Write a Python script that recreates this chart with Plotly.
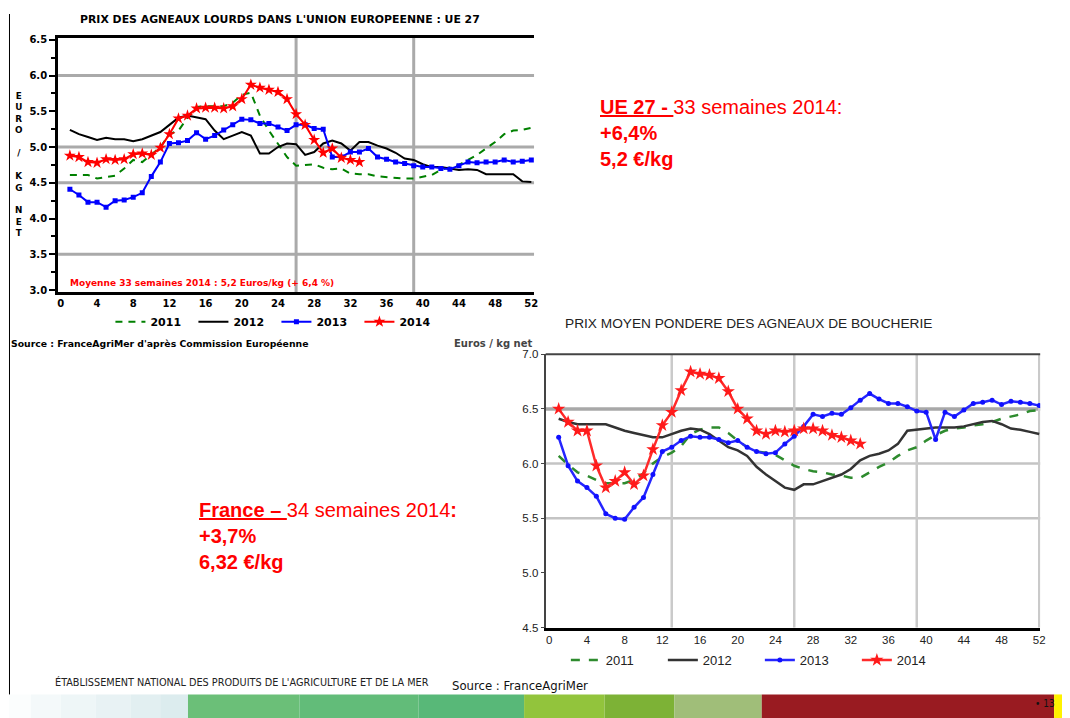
import plotly.graph_objects as go

W, H = 1070, 718
# the default page margin of the html body shifts the figure by this many pixels
PAGE_OFFSET = 8

# ---------------- DATA ----------------
weeks = list(range(1, 53))

# UE 27 - prix des agneaux lourds (euros / kg net)
eu_2011 = [4.61, 4.61, 4.61, 4.56, 4.58, 4.60, 4.70, 4.82, 4.79, 4.89,
           5.00, 5.18, 5.23, 5.41, 5.56, 5.57, 5.57, 5.57, 5.62, 5.73,
           5.76, 5.44, 5.23, 5.05, 4.86, 4.74, 4.75, 4.76, 4.71, 4.69,
           4.70, 4.63, 4.62, 4.62, 4.59, 4.58, 4.56, 4.56, 4.56, 4.59,
           4.61, 4.68, 4.72, 4.75, 4.82, 4.89, 4.98, 5.07, 5.18, 5.23,
           5.24, 5.27]
eu_2012 = [5.24, 5.18, 5.14, 5.10, 5.13, 5.11, 5.11, 5.08, 5.11, 5.16,
           5.21, 5.31, 5.41, 5.44, 5.41, 5.39, 5.23, 5.11, 5.16, 5.21,
           5.16, 4.91, 4.91, 5.00, 5.05, 5.04, 4.89, 4.93, 5.05, 5.09,
           5.05, 4.95, 5.07, 5.07, 5.02, 4.98, 4.92, 4.84, 4.82, 4.76,
           4.72, 4.72, 4.70, 4.68, 4.69, 4.68, 4.62, 4.62, 4.62, 4.62,
           4.52, 4.51]
eu_2013 = [4.41, 4.33, 4.23, 4.23, 4.16, 4.25, 4.26, 4.30, 4.36, 4.59,
           4.79, 5.05, 5.06, 5.09, 5.20, 5.11, 5.16, 5.24, 5.31, 5.39,
           5.38, 5.33, 5.33, 5.28, 5.23, 5.31, 5.31, 5.26, 5.25, 4.86,
           4.86, 4.93, 4.93, 4.98, 4.86, 4.83, 4.79, 4.77, 4.74, 4.72,
           4.72, 4.70, 4.69, 4.74, 4.79, 4.78, 4.79, 4.79, 4.82, 4.79,
           4.80, 4.82]
eu_2014 = [4.88, 4.86, 4.79, 4.78, 4.83, 4.82, 4.83, 4.90, 4.91, 4.89,
           4.99, 5.18, 5.40, 5.44, 5.54, 5.55, 5.55, 5.54, 5.57, 5.67,
           5.87, 5.83, 5.80, 5.77, 5.67, 5.46, 5.31, 5.10, 4.92, 4.98,
           4.85, 4.82, 4.79]

# France - prix moyen pondere des agneaux de boucherie
fr_2011 = [6.07, 5.99, 5.92, 5.89, 5.85, 5.82, 5.82, 5.82, 5.85, 5.91,
           6.00, 6.06, 6.10, 6.16, 6.27, 6.31, 6.33, 6.33, 6.28, 6.21,
           6.15, 6.11, 6.10, 6.08, 6.03, 5.98, 5.95, 5.93, 5.92, 5.90,
           5.89, 5.87, 5.87, 5.92, 5.97, 6.01, 6.07, 6.12, 6.15, 6.21,
           6.26, 6.30, 6.32, 6.33, 6.35, 6.36, 6.38, 6.41, 6.43, 6.45,
           6.48, 6.49]
fr_2012 = [6.41, 6.38, 6.36, 6.36, 6.36, 6.36, 6.33, 6.30, 6.28, 6.26,
           6.24, 6.24, 6.27, 6.30, 6.32, 6.31, 6.27, 6.21, 6.15, 6.12,
           6.07, 5.97, 5.90, 5.84, 5.78, 5.76, 5.81, 5.81, 5.84, 5.87,
           5.90, 5.95, 6.03, 6.07, 6.09, 6.12, 6.18, 6.30, 6.31, 6.32,
           6.33, 6.33, 6.33, 6.34, 6.36, 6.38, 6.39, 6.36, 6.32, 6.31,
           6.29, 6.27]
fr_2013 = [6.24, 5.98, 5.84, 5.78, 5.70, 5.54, 5.50, 5.49, 5.60, 5.69,
           5.90, 6.11, 6.15, 6.21, 6.25, 6.24, 6.24, 6.22, 6.19, 6.21,
           6.15, 6.11, 6.09, 6.10, 6.18, 6.25, 6.34, 6.45, 6.43, 6.46,
           6.45, 6.51, 6.58, 6.64, 6.59, 6.55, 6.55, 6.52, 6.48, 6.47,
           6.22, 6.47, 6.43, 6.49, 6.55, 6.56, 6.58, 6.54, 6.57, 6.56,
           6.55, 6.53]
fr_2014 = [6.50, 6.38, 6.30, 6.30, 5.98, 5.78, 5.84, 5.92, 5.81, 5.89,
           6.13, 6.35, 6.47, 6.67, 6.84, 6.82, 6.81, 6.78, 6.66, 6.50,
           6.41, 6.30, 6.27, 6.30, 6.29, 6.30, 6.32, 6.32, 6.30, 6.26,
           6.24, 6.21, 6.18]

year_names = ["2011", "2012", "2013", "2014"]
x_ticks = list(range(0, 53, 4))
eu_y_ticks = [3.0, 3.5, 4.0, 4.5, 5.0, 5.5, 6.0, 6.5]
fr_y_ticks = [4.5, 5.0, 5.5, 6.0, 6.5, 7.0]
eu_hgrid = [6.0, 5.0, 4.5, 3.5]
eu_vgrid = [26, 39]
fr_hgrid = [6.0, 5.5]
fr_hgrid_strong = [6.5]
fr_vgrid = [13, 26, 39, 52]

# ---------------- FIGURE ----------------
def px_x(p):
    return (p - PAGE_OFFSET) / W

def px_y(p):
    return 1 - (p - PAGE_OFFSET) / H

fig = go.Figure()

PIX = "DejaVu Sans, Verdana, sans-serif"
SANS = "Liberation Sans, Arial, sans-serif"
NARROW = "Liberation Sans Narrow, Arial Narrow, DejaVu Sans Condensed, sans-serif"

# --- EU chart traces
eu_series = [eu_2011, eu_2012, eu_2013, eu_2014]
eu_styles = [
    dict(mode="lines", line=dict(color="#008000", width=2, dash="7px,6px")),
    dict(mode="lines", line=dict(color="#000000", width=2)),
    dict(mode="lines+markers", line=dict(color="#0000ff", width=2),
         marker=dict(symbol="square", size=5, color="#0000ff")),
    dict(mode="lines+markers", line=dict(color="#ff0000", width=2),
         marker=dict(symbol="star", size=9, color="#ff0000")),
]
for name, ser, st in zip(year_names, eu_series, eu_styles):
    fig.add_trace(go.Scatter(x=weeks[:len(ser)], y=ser, name=name,
                             xaxis="x", yaxis="y", legend="legend", **st))

# --- France chart traces
fr_series = [fr_2011, fr_2012, fr_2013, fr_2014]
fr_styles = [
    dict(mode="lines", line=dict(color="#2e8b2e", width=2.5, dash="9px,9px")),
    dict(mode="lines", line=dict(color="#333333", width=2.5)),
    dict(mode="lines+markers", line=dict(color="#2626ff", width=2.5),
         marker=dict(symbol="circle", size=5, color="#1010ff")),
    dict(mode="lines+markers", line=dict(color="#ff2a2a", width=2.5),
         marker=dict(symbol="star", size=10, color="#ff1a1a")),
]
for name, ser, st in zip(year_names, fr_series, fr_styles):
    fig.add_trace(go.Scatter(x=weeks[:len(ser)], y=ser, name=name,
                             xaxis="x2", yaxis="y2", legend="legend2", **st))

shapes = []
# EU gridlines
for v in eu_hgrid:
    shapes.append(dict(type="line", xref="x domain", yref="y", x0=0, x1=1, y0=v, y1=v,
                       line=dict(color="#aaaaaa", width=3), layer="below"))
for v in eu_vgrid:
    shapes.append(dict(type="line", xref="x", yref="y domain", x0=v, x1=v, y0=0, y1=1,
                       line=dict(color="#aaaaaa", width=3), layer="below"))
# France gridlines
for v in fr_hgrid_strong:
    shapes.append(dict(type="line", xref="x2 domain", yref="y2", x0=0, x1=1, y0=v, y1=v,
                       line=dict(color="#a8a8a8", width=3.5), layer="below"))
for v in fr_hgrid:
    shapes.append(dict(type="line", xref="x2 domain", yref="y2", x0=0, x1=1, y0=v, y1=v,
                       line=dict(color="#c4c4c4", width=2.5), layer="below"))
for v in fr_vgrid:
    shapes.append(dict(type="line", xref="x2", yref="y2 domain", x0=v, x1=v, y0=0, y1=1,
                       line=dict(color="#cacaca", width=2.5), layer="below"))
# France top border
shapes.append(dict(type="line", xref="x2 domain", yref="y2 domain", x0=0, x1=1, y0=1, y1=1,
                   line=dict(color="#444444", width=2)))

# left slide border line
shapes.append(dict(type="line", xref="paper", yref="paper", x0=px_x(8.5), x1=px_x(8.5),
                   y0=1, y1=px_y(700), line=dict(color="#000000", width=1)))

# bottom decorative band (runs to the bottom / right of the picture)
band = [
    (0, 30, "#fbfdfd"), (30, 60, "#f4f9fa"), (60, 95, "#eef6f7"), (95, 130, "#e8f2f4"),
    (130, 160, "#e2eff1"), (160, 188, "#dcecee"),
    (188, 300, "#6bbf78"), (300, 420, "#62bc79"), (420, 526, "#58b878"),
    (526, 607, "#92c43c"), (607, 677, "#7db236"), (677, 765, "#a0be79"),
    (765, 1059, "#991b21"), (1059, 1080, "#fff200"),
]
for a, b, c in band:
    shapes.append(dict(type="rect", xref="paper", yref="paper",
                       x0=max(px_x(a), 0), x1=min(px_x(b), 1),
                       y0=0, y1=px_y(700), fillcolor=c, line=dict(width=0),
                       layer="below"))

annotations = []
def ann(text, x, y, size, color="#000000", family=PIX, xanchor="left", yanchor="middle",
        weight="normal", align="left"):
    annotations.append(dict(text=text, x=px_x(x), y=px_y(y), xref="paper", yref="paper",
                            showarrow=False, xanchor=xanchor, yanchor=yanchor, align=align,
                            font=dict(size=size, color=color, family=family, weight=weight)))

# EU chart texts
ann("PRIX DES AGNEAUX LOURDS DANS L'UNION EUROPEENNE : UE 27", 281, 14, 10.9,
    xanchor="center", weight="bold")
ann("E<br>U<br>R<br>O<br> <br>/<br> <br>K<br>G<br> <br>N<br>E<br>T", 18, 161, 8.8,
    xanchor="center", weight="bold", align="center")
ann("Moyenne 33 semaines 2014 : 5,2 Euros/kg (+ 6,4 %)", 67, 282, 9,
    color="#ff0000", weight="bold")
ann("Source : FranceAgriMer d'après Commission Européenne", 8, 343, 9.3, weight="bold")
ann("Euros / kg net", 453, 343, 10, color="#444444", weight="bold")

# France chart title
ann("PRIX MOYEN PONDERE DES AGNEAUX DE BOUCHERIE", 752, 323, 13.7, color="#222222",
    xanchor="center", family=SANS)

# Red commentary blocks
ann("<b><u>UE 27 - </u></b>33 semaines 2014:<br><b>+6,4%</b><br><b>5,2 €/kg</b>",
    600, 89, 20, color="#ff0000", yanchor="top", family=SANS)
ann("<b><u>France – </u></b>34 semaines 2014<b>:</b><br><b>+3,7%</b><br><b>6,32 €/kg</b>",
    197, 499, 20, color="#ff0000", yanchor="top", family=SANS)

# Footer
ann("ÉTABLISSEMENT NATIONAL DES PRODUITS DE L'AGRICULTURE ET DE LA MER", 52, 688, 10.8,
    color="#222222", family=NARROW)
ann("Source : FranceAgriMer", 451, 691, 13, color="#111111", family=NARROW)
ann("• 13", 1038, 709, 10, color="#111111", family=NARROW)

fig.update_layout(
    width=W, height=H,
    margin=dict(l=0, r=0, t=0, b=0),
    paper_bgcolor="white", plot_bgcolor="rgba(0,0,0,0)",
    showlegend=True,
    shapes=shapes, annotations=annotations,
    xaxis=dict(domain=[px_x(57.4), px_x(536)], range=[-0.3, 52.3], anchor="y",
               tickvals=x_ticks, ticks="", showgrid=False, zeroline=False,
               showline=True, linecolor="#000000", linewidth=3, mirror=True,
               tickfont=dict(family=PIX, size=10, color="#000000", weight="bold")),
    yaxis=dict(domain=[px_y(291), px_y(32)], range=[2.97, 6.53], anchor="x",
               tickvals=eu_y_ticks, tickformat=".1f", showgrid=False, zeroline=False,
               showline=True, linecolor="#000000", linewidth=3,
               ticks="outside", ticklen=6, tickwidth=2, tickcolor="#000000",
               minor=dict(dtick=0.25, ticks="outside", ticklen=4, tickwidth=2,
                          tickcolor="#000000", showgrid=False),
               tickfont=dict(family=PIX, size=10, color="#000000", weight="bold")),
    xaxis2=dict(domain=[px_x(547.7), px_x(1045)], range=[-0.38, 52.1], anchor="y2",
                tickvals=x_ticks, ticks="", showgrid=False, zeroline=False,
                showline=True, linecolor="#000000", linewidth=3,
                tickfont=dict(family=SANS, size=11.5, color="#222222")),
    yaxis2=dict(domain=[px_y(632), px_y(354)], range=[4.5, 7.0], anchor="x2",
                tickvals=fr_y_ticks, tickformat=".1f", showgrid=False, zeroline=False,
                showline=True, linecolor="#444444", linewidth=2,
                ticks="outside", ticklen=3, tickwidth=1, tickcolor="#444444",
                tickfont=dict(family=SANS, size=11.5, color="#222222")),
    legend=dict(orientation="h", x=px_x(110), y=px_y(321), xanchor="left",
                yanchor="middle", bgcolor="rgba(0,0,0,0)", itemwidth=30,
                entrywidth=38, tracegroupgap=0,
                font=dict(family=PIX, size=11, color="#000000", weight="bold")),
    legend2=dict(orientation="h", x=px_x(568), y=px_y(665), xanchor="left",
                 yanchor="middle", bgcolor="rgba(0,0,0,0)", itemwidth=30,
                 entrywidth=52, tracegroupgap=0,
                 font=dict(family=SANS, size=13, color="#222222")),
)

fig.write_html("out.html", config={"displayModeBar": False, "staticPlot": True})
